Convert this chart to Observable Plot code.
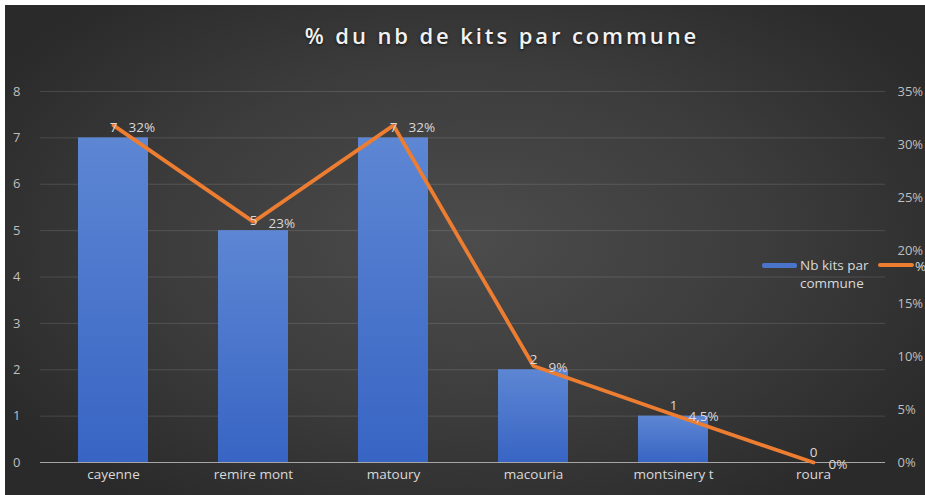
<!DOCTYPE html>
<html>
<head>
<meta charset="utf-8">
<script src="https://cdn.jsdelivr.net/npm/d3@7"></script>
<script src="https://cdn.jsdelivr.net/npm/@observablehq/plot@0.6"></script>
<style>
  html, body { margin: 0; padding: 0; background: #fff; overflow: hidden; }
  #wrap { position: relative; width: 925px; height: 495px; overflow: hidden; background: #fff; }
  #bg { position: absolute; left: 5px; top: 5px; width: 920px; height: 490px;
        background: radial-gradient(ellipse 60% 65% at 50% 48%, #4c4c4c 0%, #3c3c3c 55%, #2a2a2a 100%); }
  #title { position: absolute; left: 0; width: 1004px; top: 20px; text-align: center;
           font-family: "Open Sans", sans-serif; font-weight: 600; font-size: 22px; letter-spacing: 2.9px;
           color: #f2f2f2; text-shadow: 0 1px 3px rgba(0,0,0,0.7); }
  #chart { position: absolute; left: 0; top: 0; }
  #legend { position: absolute; left: 762px; top: 256px; font-family: "Open Sans", sans-serif;
            font-size: 13.5px; color: #d9d9d9; line-height: 18px; }
  .sw { position: absolute; height: 5px; border-radius: 2px; }
</style>
</head>
<body>
<div id="wrap">
  <div id="bg"></div>
  <div id="title">% du nb de kits par commune</div>
  <div id="chart"></div>
  <div id="legend">
    <div class="sw" style="left:0;top:7px;width:35px;background:#4a74cc;"></div>
    <div style="position:absolute;left:38px;top:0;white-space:nowrap;">Nb kits par<br>commune</div>
    <div class="sw" style="left:116px;top:7px;width:36px;height:4px;background:#ED7D31;"></div>
    <div style="position:absolute;left:153px;top:1px;">%</div>
  </div>
</div>
<script>
const communes = ["cayenne", "remire mont", "matoury", "macouria", "montsinery t", "roura"];
const nbKits = [7, 5, 7, 2, 1, 0];
const pctValues = [31.8, 22.7, 31.8, 9.1, 4.5, 0];
const pctLabels = ["32%", "23%", "32%", "9%", "4,5%", "0%"];
const leftTicks = [0, 1, 2, 3, 4, 5, 6, 7, 8];
const rightTicks = [0, 5, 10, 15, 20, 25, 30, 35];

const pctMax = 35, nbMax = 8;
const pToY = p => p * nbMax / pctMax;

const data = communes.map((c, i) => ({commune: c, nb: nbKits[i], pct: pctValues[i], label: pctLabels[i]}));

const defs = () => {
  const g = d3.create("svg:defs");
  const lg = g.append("linearGradient").attr("id", "barGrad").attr("x1", 0).attr("y1", 0).attr("x2", 0).attr("y2", 1);
  lg.append("stop").attr("offset", "0%").attr("stop-color", "#5d86d3");
  lg.append("stop").attr("offset", "100%").attr("stop-color", "#3865c4");
  return g.node();
};

const chart = Plot.plot({
  width: 925, height: 495,
  marginTop: 91, marginBottom: 33, marginLeft: 40, marginRight: 40,
  style: {background: "transparent", color: "#bfbfbf", fontFamily: "'Open Sans', sans-serif", fontSize: "13px", overflow: "visible"},
  x: {domain: communes, paddingInner: 0.5, paddingOuter: 0.25, label: null},
  y: {domain: [0, nbMax], label: null},
  marks: [
    defs,
    Plot.gridY(leftTicks, {stroke: "#ffffff", strokeOpacity: 0.13, strokeWidth: 1}),
    Plot.axisY(leftTicks, {tickSize: 0, tickPadding: 20, fill: "#bfbfbf", fontSize: 13, label: null}),
    Plot.axisY(rightTicks.map(pToY), {anchor: "right", tickSize: 0, tickPadding: 12, textAnchor: "start",
      tickFormat: d => Math.round(d * pctMax / nbMax) + "%", fill: "#bfbfbf", fontSize: 13, label: null}),
    Plot.axisX({tickSize: 0, tickPadding: 7, fill: "#d9d9d9", fontSize: 13.5, label: null}),
    Plot.barY(data, {x: "commune", y: "nb", fill: "url(#barGrad)"}),
    Plot.ruleY([0], {stroke: "#a6a6a6", strokeWidth: 1.2}),
    Plot.line(data, {x: "commune", y: d => pToY(d.pct), stroke: "#ED7D31", strokeWidth: 3.8, strokeLinejoin: "miter"}),
    Plot.text(data, {x: "commune", y: "nb", text: d => String(d.nb), dy: -10, fill: "#d9d9d9", fontSize: 13.5}),
    Plot.text(data, {x: "commune", y: d => pToY(d.pct), text: "label", dx: 15, dy: 2, textAnchor: "start", fill: "#d9d9d9", fontSize: 13.5})
  ]
});
document.getElementById("chart").appendChild(chart);
</script>
</body>
</html>
